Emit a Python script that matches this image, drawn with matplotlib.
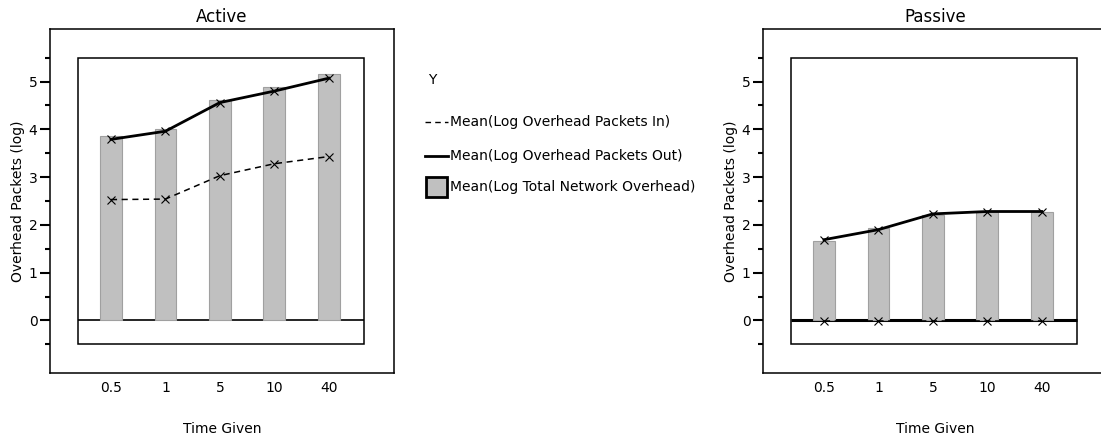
import matplotlib
matplotlib.use("Agg")
import matplotlib.pyplot as plt
from matplotlib.lines import Line2D
from matplotlib.patches import Rectangle
from matplotlib.ticker import FixedLocator

# data
times = ["0.5", "1", "5", "10", "40"]

active_total = [3.86, 4.01, 4.62, 4.88, 5.16]
active_out = [3.79, 3.96, 4.56, 4.80, 5.07]
active_in = [2.53, 2.54, 3.03, 3.28, 3.43]

passive_total = [1.67, 1.93, 2.21, 2.26, 2.26]
passive_out = [1.69, 1.90, 2.23, 2.28, 2.28]
passive_in = [-0.02, -0.02, -0.02, -0.02, -0.02]

W, H = 1101, 443
fig = plt.figure(figsize=(W / 100, H / 100), dpi=100)

def px_to_fig(x, y):
	return x / W, 1 - y / H

def draw_panel(left_px, title, total, out, inn, zero_lw):
	ax = fig.add_axes([left_px / W, (H - 373) / H, 344 / W, 344 / H])
	xs = list(range(len(times)))

	# inner frame and zero line
	ax.add_patch(Rectangle((-0.6, -0.5), 5.25, 6.0, fill=False, edgecolor="black", lw=1.1, zorder=1))
	ax.plot([-0.6, 4.65], [0, 0], color="black", lw=zero_lw, zorder=2, solid_capstyle="butt")

	ax.bar(xs, total, width=0.4, color="#c0c0c0", edgecolor="#a0a0a0", linewidth=0.8, zorder=3)
	ax.plot(xs, inn, color="black", lw=1.1, ls=(0, (4, 3)), marker="x", ms=6, mew=0.8, zorder=4)
	ax.plot(xs, out, color="black", lw=2.0, marker="x", ms=6, mew=0.8, zorder=5)

	ax.set_xlim(-1.12, 5.2)
	ax.set_ylim(-1.1, 6.1)
	ax.set_xticks(xs)
	ax.set_xticklabels(times)
	ax.tick_params(axis="x", length=0, pad=6, labelsize=10)
	ax.set_yticks([0, 1, 2, 3, 4, 5])
	ax.yaxis.set_minor_locator(FixedLocator([-0.5, 0.5, 1.5, 2.5, 3.5, 4.5, 5.5]))
	ax.tick_params(axis="y", which="major", length=7, width=1.5, pad=2, labelsize=10)
	ax.tick_params(axis="y", which="minor", length=3.6, width=1.5)
	for s in ax.spines.values():
		s.set_linewidth(1.1)

	ax.set_title(title, fontsize=12, pad=5)
	ax.set_ylabel("Overhead Packets (log)", fontsize=10)
	ax.yaxis.set_label_coords(-0.072, 0.5)
	ax.set_xlabel("Time Given", fontsize=10, labelpad=19)
	return ax

draw_panel(50, "Active", active_total, active_out, active_in, 1.2)
draw_panel(763, "Passive", passive_total, passive_out, passive_in, 2.2)

# legend drawn by hand, like the original
x, y = px_to_fig(428, 80)
fig.text(x, y, "Y", fontsize=10, va="center", ha="left")

rows = [
	(122, "Mean(Log Overhead Packets In)", "dash"),
	(156, "Mean(Log Overhead Packets Out)", "solid"),
	(187, "Mean(Log Total Network Overhead)", "box"),
]
for ry, label, kind in rows:
	x0, yy = px_to_fig(425, ry)
	x1, _ = px_to_fig(448, ry)
	if kind == "dash":
		fig.add_artist(Line2D([x0, x1], [yy, yy], color="black", lw=1.0, ls=(0, (4, 3)), transform=fig.transFigure))
	elif kind == "solid":
		fig.add_artist(Line2D([x0, x1], [yy, yy], color="black", lw=2.0, transform=fig.transFigure))
	else:
		bx, by = px_to_fig(426, ry + 10)
		fig.add_artist(Rectangle((bx, by), 21 / W, 20 / H, facecolor="#c0c0c0", edgecolor="black", lw=2.0, transform=fig.transFigure))
	tx, _ = px_to_fig(450, ry)
	fig.text(tx, yy, label, fontsize=10, va="center", ha="left")

fig.savefig("out.png", dpi=100)
